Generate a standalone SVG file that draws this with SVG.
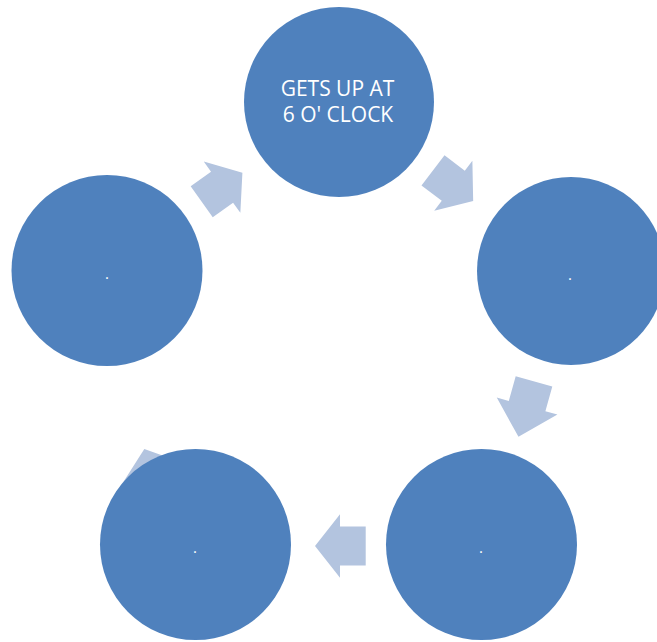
<svg xmlns="http://www.w3.org/2000/svg" width="657" height="642" viewBox="0 0 657 642">
<style>
.node{fill:#4F81BD;}
.arrow{fill:#B3C4DF;}
.lbl{fill:#FFFFFF;font-family:"Open Sans","Liberation Sans",sans-serif;font-size:21px;text-anchor:middle;}
.dot{fill:#FFFFFF;font-family:"Open Sans","Liberation Sans",sans-serif;font-size:15px;text-anchor:middle;}
</style>
<rect width="657" height="642" fill="#FFFFFF"/>
<g id="connectors">
<polygon class="arrow" points="0,-19 25,-19 25,-31.5 50,0 25,31.5 25,19 0,19" transform="translate(201.7,201.7) rotate(-35.5)"/>
<polygon class="arrow" points="0,-19 25.5,-19 25.5,-31.5 50.5,0 25.5,31.5 25.5,19 0,19" transform="translate(433,170.3) rotate(37.3)"/>
<polygon class="arrow" points="0,-19 25.7,-19 25.7,-31.5 57.7,0 25.7,31.5 25.7,19 0,19" transform="translate(534,381.3) rotate(105.6)"/>
<polygon class="arrow" points="0,-19.5 25.7,-19.5 25.7,-31.7 50.7,0 25.7,31.7 25.7,19.5 0,19.5" transform="translate(365.7,546) rotate(180)"/>
<polygon class="arrow" points="0,-19 25,-19 25,-31.5 50,0 25,31.5 25,19 0,19" transform="translate(160.6,496.3) rotate(-109)"/>
</g>
<g id="node-top">
<circle class="node" cx="339" cy="102" r="95"/>
<text class="lbl" x="337.5" y="95.5">GETS UP AT</text>
<text class="lbl" x="338" y="122.3">6 O' CLOCK</text>
</g>
<g id="node-right">
<circle class="node" cx="571" cy="271" r="94"/>
<text class="dot" x="570" y="279.5">.</text>
</g>
<g id="node-bottom-right">
<circle class="node" cx="481.5" cy="544.5" r="95.5"/>
<text class="dot" x="481" y="552.5">.</text>
</g>
<g id="node-bottom-left">
<circle class="node" cx="195.5" cy="544.5" r="95.5"/>
<text class="dot" x="195" y="552.5">.</text>
</g>
<g id="node-left">
<circle class="node" cx="107" cy="270.5" r="95.5"/>
<text class="dot" x="107" y="278.5">.</text>
</g>
</svg>
